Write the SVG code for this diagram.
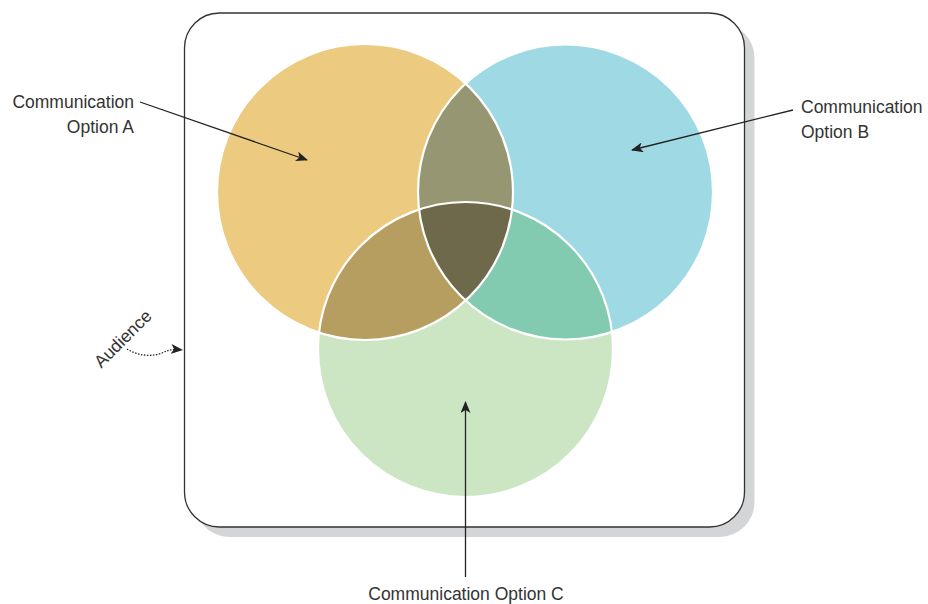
<svg xmlns="http://www.w3.org/2000/svg" width="928" height="604" viewBox="0 0 928 604">
<style>
.lbl{font-family:"Liberation Sans","Open Sans",sans-serif;font-size:17.5px;fill:#333;}
.ln{stroke:#222;stroke-width:1.3;fill:none;}
.ring{fill:none;stroke:#fff;stroke-width:2.2;}
</style>
<defs>
<marker id="ah" viewBox="0 0 12 10" refX="11" refY="5" markerWidth="12" markerHeight="10" markerUnits="userSpaceOnUse" orient="auto">
<path d="M0,0 L12,5 L0,10 L3,5 Z" fill="#222"/>
</marker>
<clipPath id="cA"><circle cx="365" cy="192" r="148"/></clipPath>
<clipPath id="cB"><circle cx="565.5" cy="192" r="147.5"/></clipPath>
</defs>
<g id="audience-box">
<rect x="194.5" y="23" width="560" height="514" rx="35" fill="#d4d5d7"/>
<rect x="184.5" y="13" width="560" height="514" rx="35" fill="#fff" stroke="#333" stroke-width="1.3"/>
</g>
<g id="circle-a"><circle cx="365" cy="192" r="148" fill="#ecca7f"/></g>
<g id="circle-b"><circle cx="565.5" cy="192" r="147.5" fill="#9fd9e4"/></g>
<g id="circle-c"><circle cx="465.5" cy="349.5" r="147.5" fill="#cce5c3"/></g>
<g id="overlap-ab"><circle cx="565.5" cy="192" r="147.5" fill="#979672" clip-path="url(#cA)"/></g>
<g id="overlap-ac"><circle cx="465.5" cy="349.5" r="147.5" fill="#b59e5f" clip-path="url(#cA)"/></g>
<g id="overlap-bc"><circle cx="465.5" cy="349.5" r="147.5" fill="#82cab0" clip-path="url(#cB)"/></g>
<g id="overlap-abc"><g clip-path="url(#cB)"><circle cx="465.5" cy="349.5" r="147.5" fill="#6f694b" clip-path="url(#cA)"/></g></g>
<g id="rings">
<circle class="ring" cx="365" cy="192" r="148"/>
<circle class="ring" cx="565.5" cy="192" r="147.5"/>
<circle class="ring" cx="465.5" cy="349.5" r="147.5"/>
</g>
<g id="connectors">
<line class="ln" x1="140" y1="102" x2="307" y2="160" marker-end="url(#ah)"/>
<line class="ln" x1="793" y1="110" x2="632" y2="150" marker-end="url(#ah)"/>
<line class="ln" x1="465.5" y1="577" x2="465.5" y2="402" marker-end="url(#ah)"/>
<path d="M127,349 C138,356 152,357 162,353 C168,350 172,349 182,350" fill="none" stroke="#222" stroke-width="1.3" stroke-dasharray="1.5,1.5" marker-end="url(#ah)"/>
</g>
<g id="label-a">
<text class="lbl" x="134" y="108" text-anchor="end">Communication</text>
<text class="lbl" x="134" y="133" text-anchor="end">Option A</text>
</g>
<g id="label-b">
<text class="lbl" x="801" y="113">Communication</text>
<text class="lbl" x="801" y="138">Option B</text>
</g>
<g id="label-c">
<text class="lbl" x="466" y="600" text-anchor="middle">Communication Option C</text>
</g>
<g id="label-audience">
<text class="lbl" x="0" y="0" text-anchor="middle" transform="translate(127,343) rotate(-45)">Audience</text>
</g>
</svg>
